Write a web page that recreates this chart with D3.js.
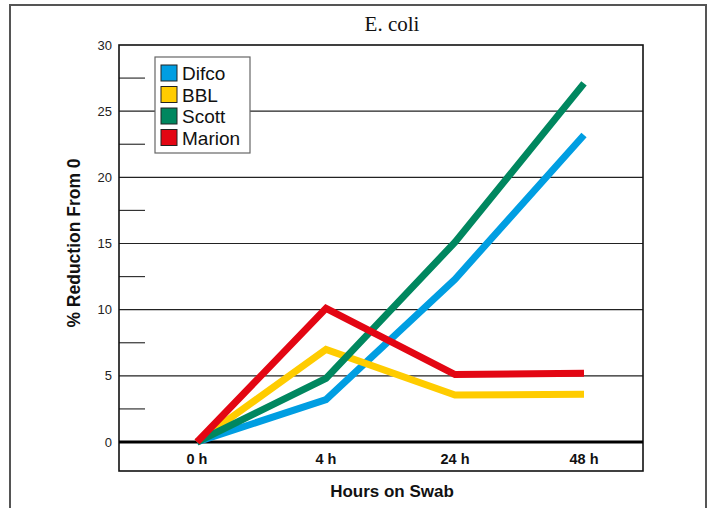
<!DOCTYPE html>
<html><head><meta charset="utf-8">
<script src="https://cdn.jsdelivr.net/npm/d3@7"></script>
<style>body{margin:0;background:#fff;}svg{display:block;}</style>
</head><body>
<svg id="c" width="714" height="508"></svg>
<script>
const categories = ["0 h", "4 h", "24 h", "48 h"];
const seriesNames = ["Difco", "BBL", "Scott", "Marion"];
const difco  = [0, 3.2, 12.3, 23.2];
const bbl    = [0, 7.0, 3.55, 3.6];
const scott  = [0, 4.8, 15.1, 27.1];
const marion = [0, 10.1, 5.1, 5.2];
const colors = ["#009ee2", "#ffcc00", "#00875f", "#e30613"];
const yTicks = [0, 5, 10, 15, 20, 25, 30];
const yMinor = [2.5, 7.5, 12.5, 17.5, 22.5, 27.5];
const series = [difco, bbl, scott, marion];

const svg = d3.select("#c");
const L = 119, R = 643, T = 45, B = 442, B2 = 471;
const x = d3.scalePoint().domain(categories).range([197, 584]);
const y = d3.scaleLinear().domain([0, 30]).range([B, T]);

svg.append("rect").attr("x", 10).attr("y", 5).attr("width", 696).attr("height", 520)
  .attr("fill", "none").attr("stroke", "#555").attr("stroke-width", 2);

svg.append("text").attr("x", 392).attr("y", 31).attr("text-anchor", "middle")
  .attr("font-family", "Liberation Serif, Times New Roman, serif").attr("font-size", 21)
  .attr("fill", "#111").text("E. coli");

svg.selectAll("line.grid").data(yTicks.filter(d => d > 0 && d < 30)).enter().append("line")
  .attr("x1", L).attr("x2", R).attr("y1", d => y(d)).attr("y2", d => y(d))
  .attr("stroke", "#222").attr("stroke-width", 1.2);
svg.selectAll("line.minor").data(yMinor).enter().append("line")
  .attr("x1", L).attr("x2", L + 26).attr("y1", d => y(d)).attr("y2", d => y(d))
  .attr("stroke", "#333").attr("stroke-width", 1.2);

svg.selectAll("text.yt").data(yTicks).enter().append("text")
  .attr("x", 112).attr("y", d => y(d) + 4.5).attr("text-anchor", "end")
  .attr("font-family", "Liberation Sans, Arial, sans-serif").attr("font-size", 13)
  .attr("fill", "#222").text(d => d);

svg.append("rect").attr("x", L).attr("y", T).attr("width", R - L).attr("height", B2 - T)
  .attr("fill", "none").attr("stroke", "#111").attr("stroke-width", 1.6);
svg.append("line").attr("x1", L).attr("x2", R).attr("y1", y(0)).attr("y2", y(0))
  .attr("stroke", "#000").attr("stroke-width", 3);

svg.selectAll("text.xt").data(categories).enter().append("text")
  .attr("x", d => x(d)).attr("y", 464).attr("text-anchor", "middle")
  .attr("font-family", "Liberation Sans, Arial, sans-serif").attr("font-size", 14.5)
  .attr("font-weight", "bold").attr("fill", "#111").text(d => d);

svg.append("text").attr("x", 392).attr("y", 497).attr("text-anchor", "middle")
  .attr("font-family", "Liberation Sans, Arial, sans-serif").attr("font-size", 17)
  .attr("font-weight", "bold").attr("fill", "#111").text("Hours on Swab");
svg.append("text").attr("transform", "translate(80,243) rotate(-90)").attr("text-anchor", "middle")
  .attr("font-family", "Liberation Sans, Arial, sans-serif").attr("font-size", 17.5)
  .attr("font-weight", "bold").attr("fill", "#111").text("% Reduction From 0");

const line = d3.line().x((d, i) => x(categories[i])).y(d => y(d));
svg.selectAll("path.s").data(series).enter().append("path")
  .attr("d", d => line(d)).attr("fill", "none")
  .attr("stroke", (d, i) => colors[i]).attr("stroke-width", 7)
  .attr("stroke-linejoin", "miter").attr("stroke-linecap", "butt");

const lg = svg.append("g");
lg.append("rect").attr("x", 155).attr("y", 57).attr("width", 95).attr("height", 96)
  .attr("fill", "#fff").attr("stroke", "#666").attr("stroke-width", 1.2);
seriesNames.forEach((n, i) => {
  const cy = 73 + i * 21.5;
  lg.append("rect").attr("x", 161).attr("y", cy - 8).attr("width", 16).attr("height", 16)
    .attr("fill", colors[i]).attr("stroke", "#222").attr("stroke-width", 1);
  lg.append("text").attr("x", 182).attr("y", cy + 7)
    .attr("font-family", "Liberation Sans, Arial, sans-serif").attr("font-size", 19)
    .attr("fill", "#111").text(n);
});
</script>
</body></html>
